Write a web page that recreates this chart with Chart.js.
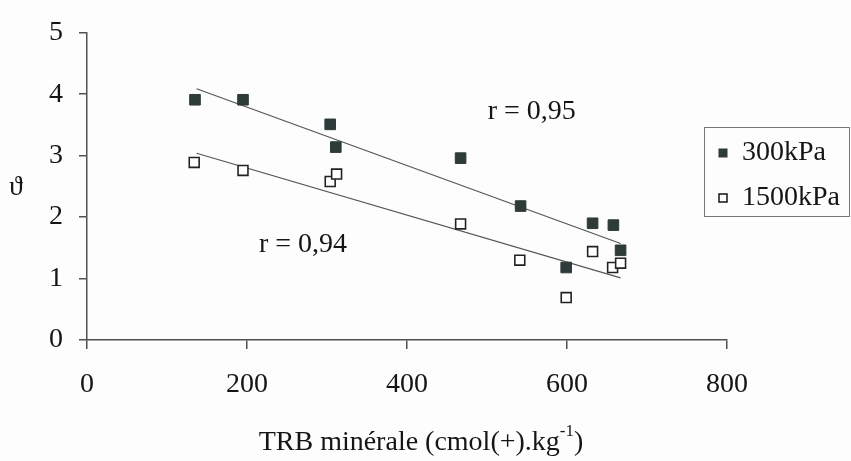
<!DOCTYPE html>
<html>
<head>
<meta charset="utf-8">
<script src="https://cdn.jsdelivr.net/npm/chart.js@4.4.0/dist/chart.umd.min.js"></script>
<style>
  html, body { margin: 0; padding: 0; background: #fdfdfd; }
  canvas { display: block; }
</style>
</head>
<body>
<canvas id="chart" width="851" height="461"></canvas>
<script>
// values
const x300 = [135, 195, 304, 311, 467, 542, 599, 632, 658, 667];
const y300 = [3.91, 3.91, 3.51, 3.14, 2.96, 2.18, 1.18, 1.90, 1.87, 1.46];
const x1500 = [134, 195, 304, 312, 467, 541, 599, 632, 657, 667];
const y1500 = [2.89, 2.76, 2.58, 2.70, 1.89, 1.30, 0.69, 1.44, 1.18, 1.25];

// trend line end points
const trendX = [137, 667];
const trend300 = [4.09, 1.57];
const trend1500 = [3.04, 1.01];

const seriesNames = ['300kPa', '1500kPa'];
const xTicks = [0, 200, 400, 600, 800];
const yTicks = [0, 1, 2, 3, 4, 5];

const serif = '"Liberation Serif", "Times New Roman", serif';
const fs = 28;
const textColor = '#151515';
const axisColor = '#505050';

function pts(xs, ys) {
    return xs.map((x, i) => ({ x: x, y: ys[i] }));
}

// annotations, y label, x title and legend
const extras = {
    id: 'extras',
    afterDraw(chart) {
        const ctx = chart.ctx;
        const xs = chart.scales.x;
        const ys = chart.scales.y;
        ctx.save();
        ctx.fillStyle = textColor;
        ctx.font = fs + 'px ' + serif;
        ctx.textAlign = 'center';
        ctx.textBaseline = 'middle';

        ctx.fillText('r = 0,95', xs.getPixelForValue(556), ys.getPixelForValue(3.72));
        ctx.fillText('r = 0,94', xs.getPixelForValue(270), ys.getPixelForValue(1.55));

        // y label
        ctx.fillText('\u03D1', 16, 188);

        // x title with superscript
        const main = 'TRB minérale (cmol(+).kg';
        const sup = '-1';
        const end = ')';
        ctx.font = fs + 'px ' + serif;
        const wMain = ctx.measureText(main).width;
        const wEnd = ctx.measureText(end).width;
        ctx.font = '17px ' + serif;
        const wSup = ctx.measureText(sup).width;
        let tx = 421 - (wMain + wSup + wEnd) / 2;
        ctx.textAlign = 'left';
        ctx.font = fs + 'px ' + serif;
        ctx.fillText(main, tx, 443);
        tx += wMain;
        ctx.font = '17px ' + serif;
        ctx.fillText(sup, tx, 432);
        tx += wSup;
        ctx.font = fs + 'px ' + serif;
        ctx.fillText(end, tx, 443);

        // legend
        ctx.strokeStyle = '#777';
        ctx.lineWidth = 1;
        ctx.strokeRect(704.5, 127.5, 145, 89);
        const rows = [153, 198];
        chart.data.datasets.slice(0, 2).forEach((ds, i) => {
            ctx.fillStyle = ds.backgroundColor;
            ctx.strokeStyle = ds.borderColor;
            ctx.lineWidth = ds.borderWidth;
            ctx.fillRect(719, rows[i] - 4, 8, 8);
            ctx.strokeRect(719, rows[i] - 4, 8, 8);
            ctx.fillStyle = textColor;
            ctx.font = fs + 'px ' + serif;
            ctx.fillText(ds.label, 742, rows[i]);
        });
        ctx.restore();
    }
};

new Chart(document.getElementById('chart'), {
    type: 'scatter',
    data: {
        datasets: [
            {
                label: seriesNames[0],
                data: pts(x300, y300),
                pointStyle: 'rect',
                pointRadius: 7.5,
                backgroundColor: '#2e3b39',
                borderColor: '#2e3b39',
                borderWidth: 1
            },
            {
                label: seriesNames[1],
                data: pts(x1500, y1500),
                pointStyle: 'rect',
                pointRadius: 7,
                backgroundColor: '#ffffff',
                borderColor: '#222',
                borderWidth: 1.6
            },
            {
                label: 'trend 300',
                data: pts(trendX, trend300),
                showLine: true,
                pointRadius: 0,
                borderColor: '#555',
                borderWidth: 1.2
            },
            {
                label: 'trend 1500',
                data: pts(trendX, trend1500),
                showLine: true,
                pointRadius: 0,
                borderColor: '#555',
                borderWidth: 1.2
            }
        ]
    },
    options: {
        responsive: false,
        animation: false,
        events: [],
        layout: { padding: { left: 0, right: 124, top: 27, bottom: 0 } },
        plugins: {
            legend: { display: false },
            tooltip: { enabled: false }
        },
        scales: {
            x: {
                type: 'linear',
                min: 0,
                max: 800,
                afterBuildTicks: (s) => { s.ticks = xTicks.map(v => ({ value: v })); },
                afterFit: (s) => { s.height = 121; },
                ticks: {
                    font: { family: serif, size: fs },
                    color: textColor,
                    padding: 19,
                    maxRotation: 0
                },
                grid: {
                    drawOnChartArea: false,
                    drawTicks: true,
                    tickLength: 9,
                    color: axisColor,
                    lineWidth: 1.5
                },
                border: { color: axisColor, width: 1.5 }
            },
            y: {
                min: 0,
                max: 5,
                afterBuildTicks: (s) => { s.ticks = yTicks.map(v => ({ value: v })); },
                afterFit: (s) => { s.width = 87; },
                ticks: {
                    font: { family: serif, size: fs },
                    color: textColor,
                    padding: 16
                },
                grid: {
                    drawOnChartArea: false,
                    drawTicks: true,
                    tickLength: 8,
                    color: axisColor,
                    lineWidth: 1.5
                },
                border: { color: axisColor, width: 1.5 }
            }
        }
    },
    plugins: [extras]
});
</script>
</body>
</html>
